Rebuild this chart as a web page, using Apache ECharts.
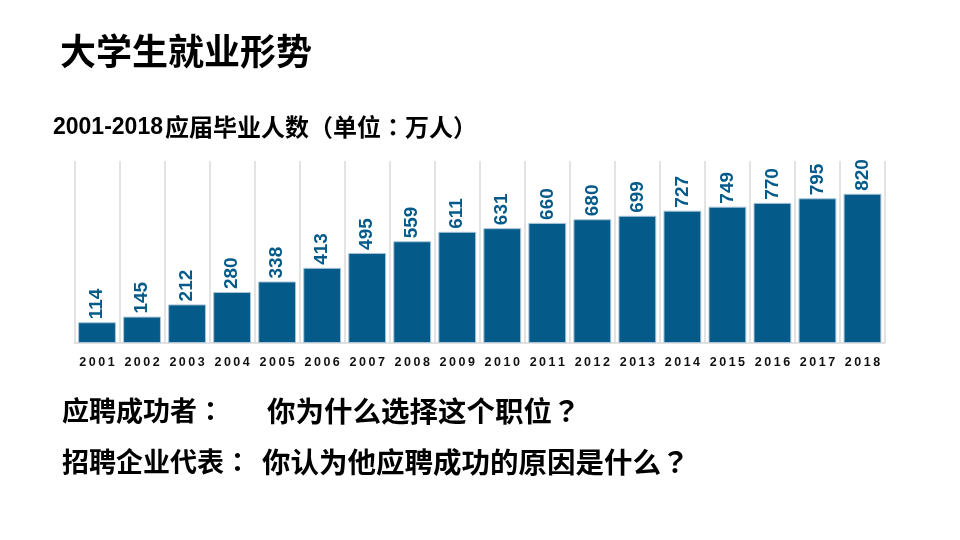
<!DOCTYPE html>
<html><head><meta charset="utf-8">
<script src="https://cdn.jsdelivr.net/npm/echarts@6/dist/echarts.min.js"></script>
<style>html,body{margin:0;padding:0;background:#fff}#c{width:960px;height:540px}</style>
</head><body><div id="c"></div>
<script>
const years = ['2001','2002','2003','2004','2005','2006','2007','2008','2009','2010','2011','2012','2013','2014','2015','2016','2017','2018'];
const graduates = [114,145,212,280,338,413,495,559,611,631,660,680,699,727,749,770,795,820];
const mainTitle = '大学生就业形势';
const chartTitleYears = '2001-2018';
const chartTitleText = '应届毕业人数（单位：万人）';
const q1Label = '应聘成功者：';
const q1Text = '你为什么选择这个职位？';
const q2Label = '招聘企业代表：';
const q2Text = '你认为他应聘成功的原因是什么？';

const LATIN = '"Liberation Sans", Arial, sans-serif';
const CJK = '"Noto Sans CJK TC", "Noto Sans CJK SC", sans-serif';
const BLUE = '#045a89';
const chart = echarts.init(document.getElementById('c'), null, {renderer:'canvas'});
function txt(text, x, y, size, fam){
  return {type:'text', x:x, y:y, style:{text:text, fill:'#000', align:'left', verticalAlign:'middle',
    font:'bold '+size+'px '+(fam||CJK)}};
}
chart.setOption({
  animation:false,
  backgroundColor:'#fff',
  grid:{left:74.5, right:75, top:161, bottom:197},
  xAxis:{type:'category', data:years,
    axisLine:{show:true, lineStyle:{color:'#d9d9d9', width:1.5}},
    axisTick:{show:false},
    splitLine:{show:true, interval:0, lineStyle:{color:'#e3e3e3', width:2}},
    axisLabel:{interval:0, margin:13, color:'#111', fontSize:12.5, fontWeight:'bold', fontFamily:LATIN,
      formatter:v=>v.split('').join('\u2009')}},
  yAxis:{type:'value', min:0, max:1000, show:false, splitLine:{show:false}},
  series:[{type:'bar', data:graduates, barCategoryGap:'16%',
    itemStyle:{color:BLUE, borderColor:'#a8c4d8', borderWidth:1},
    label:{show:true, position:'top', rotate:90, align:'left', verticalAlign:'middle', distance:3,
      color:BLUE, fontSize:19, fontWeight:'bold', fontFamily:LATIN}}],
  graphic:[
    txt(mainTitle, 60, 51, 36),
    txt(chartTitleYears, 53, 128, 23, LATIN),
    txt(chartTitleText, 165, 127, 24),
    txt(q1Label, 62, 411, 27),
    txt(q1Text, 267, 411, 28.5),
    txt(q2Label, 62, 462, 27),
    txt(q2Text, 262, 462, 28.5)
  ]
});
</script></body></html>
